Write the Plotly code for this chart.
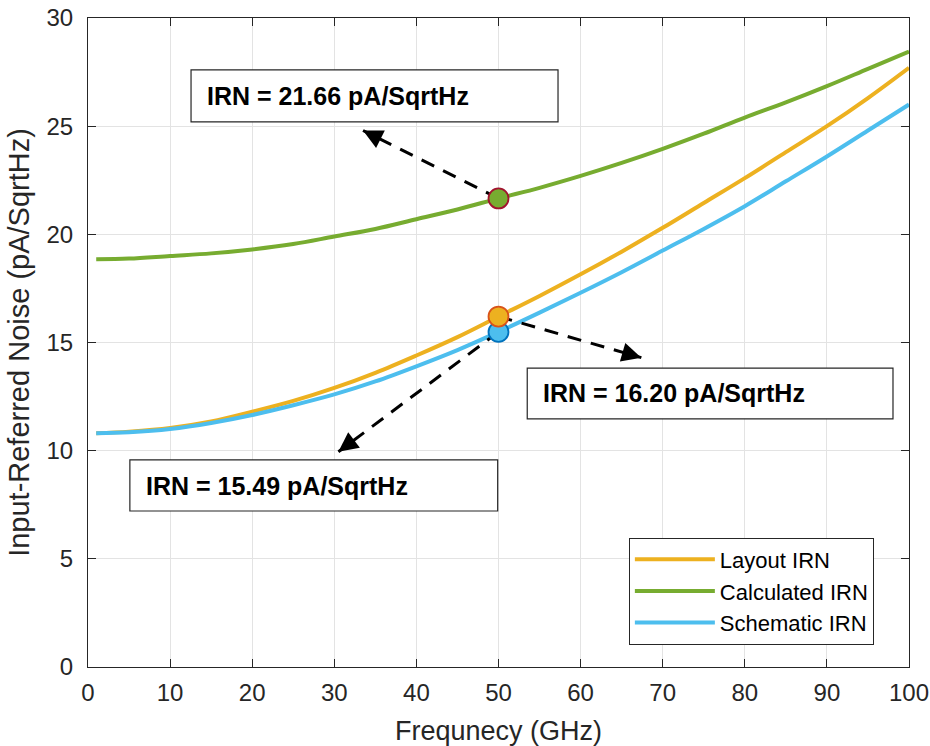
import plotly.graph_objects as go

freq = [1, 5, 10, 15, 20, 25, 30, 35, 40, 45, 50, 55, 60, 65, 70, 75, 80, 85, 90, 95, 100]
layout_irn = [10.8, 10.88, 11.05, 11.35, 11.8, 12.3, 12.9, 13.6, 14.4, 15.25, 16.2, 17.15, 18.15, 19.2, 20.3, 21.45, 22.6, 23.8, 25.0, 26.3, 27.7]
calc_irn = [18.85, 18.88, 19.0, 19.12, 19.3, 19.55, 19.9, 20.25, 20.7, 21.15, 21.66, 22.15, 22.7, 23.3, 23.95, 24.65, 25.4, 26.1, 26.85, 27.65, 28.45]
schem_irn = [10.8, 10.85, 11.0, 11.28, 11.65, 12.1, 12.6, 13.2, 13.9, 14.65, 15.49, 16.38, 17.3, 18.25, 19.25, 20.25, 21.3, 22.45, 23.6, 24.8, 26.0]

mark_x = 50
mark_vals = {"calc": 21.66, "layout": 16.20, "schem": 15.49}
labels = {"calc": "IRN = 21.66 pA/SqrtHz", "layout": "IRN = 16.20 pA/SqrtHz", "schem": "IRN = 15.49 pA/SqrtHz"}
arrow_tips = {"calc": (33.5, 24.8), "layout": (67.4, 14.3), "schem": (30.5, 9.95)}
boxes = {"calc": (12.55, 57.25, 25.2, 27.6), "layout": (53.5, 98.05, 11.47, 13.82), "schem": (5.1, 49.9, 7.21, 9.57)}

C_LAYOUT = "#EDB120"
C_CALC = "#77AC30"
C_SCHEM = "#4DBEEE"
FONT = "Liberation Sans, Arial, sans-serif"

fig = go.Figure()
fig.add_trace(go.Scatter(x=freq, y=layout_irn, mode="lines", name="Layout IRN", line=dict(color=C_LAYOUT, width=4, shape="spline")))
fig.add_trace(go.Scatter(x=freq, y=calc_irn, mode="lines", name="Calculated IRN", line=dict(color=C_CALC, width=4, shape="spline")))
fig.add_trace(go.Scatter(x=freq, y=schem_irn, mode="lines", name="Schematic IRN", line=dict(color=C_SCHEM, width=4, shape="spline")))

for k in ["calc", "layout", "schem"]:
    tx, ty = arrow_tips[k]
    fig.add_trace(go.Scatter(x=[mark_x, tx], y=[mark_vals[k], ty], mode="lines", showlegend=False,
                             line=dict(color="black", width=3, dash="14px,10px"), hoverinfo="skip"))
    bx = tx + (mark_x - tx) * 0.1
    by = ty + (mark_vals[k] - ty) * 0.1
    fig.add_annotation(x=tx, y=ty, ax=bx, ay=by, xref="x", yref="y", axref="x", ayref="y",
                       showarrow=True, arrowhead=2, arrowsize=1.3, arrowwidth=3, arrowcolor="black",
                       text="", standoff=0)

marker_specs = [("schem", C_SCHEM, "#0072BD"), ("layout", C_LAYOUT, "#D95319"), ("calc", C_CALC, "#A2142F")]
for k, fillc, edgec in marker_specs:
    fig.add_trace(go.Scatter(x=[mark_x], y=[mark_vals[k]], mode="markers", showlegend=False,
                             marker=dict(size=20, color=fillc, line=dict(color=edgec, width=1.8))))

for k in ["calc", "layout", "schem"]:
    x0, x1, y0, y1 = boxes[k]
    fig.add_shape(type="rect", x0=x0, x1=x1, y0=y0, y1=y1, xref="x", yref="y",
                  line=dict(color="#262626", width=1.2), fillcolor="white", layer="above")
    fig.add_annotation(x=x0 + 1.7, y=(y0 + y1) / 2, xref="x", yref="y", xanchor="left", yanchor="middle",
                       text="<b>" + labels[k] + "</b>", showarrow=False,
                       font=dict(family=FONT, size=25, color="black"))

axis_common = dict(showline=True, linecolor="#262626", linewidth=1.2, mirror="ticks", ticks="inside",
                   ticklen=8, tickcolor="#262626", showgrid=True, gridcolor="#E3E3E3", gridwidth=1,
                   zeroline=False, automargin=False, ticklabeloverflow="allow",
                   tickfont=dict(family=FONT, size=24, color="#262626"))

fig.update_xaxes(range=[0, 100], dtick=10, ticklabelstandoff=4,
                 title=dict(text="Frequnecy (GHz)", font=dict(family=FONT, size=27, color="#262626"), standoff=20),
                 **axis_common)
fig.update_yaxes(range=[0, 30], dtick=5, ticklabelstandoff=9,
                 title=dict(text="Input-Referred Noise (pA/SqrtHz)", font=dict(family=FONT, size=29, color="#262626"), standoff=8),
                 **axis_common)

fig.update_layout(
    width=930, height=746,
    margin=dict(l=88, r=21, t=18, b=79, autoexpand=False),
    plot_bgcolor="white", paper_bgcolor="white",
    font=dict(family=FONT, color="#262626"),
    legend=dict(x=0.808, y=0.117, xanchor="center", yanchor="middle", bgcolor="white",
                bordercolor="#262626", borderwidth=1, font=dict(family=FONT, size=22, color="black"),
                itemwidth=80, tracegroupgap=0),
)

fig.write_html("out.html", config={"displayModeBar": False}, post_script="document.body.style.margin='0';")
